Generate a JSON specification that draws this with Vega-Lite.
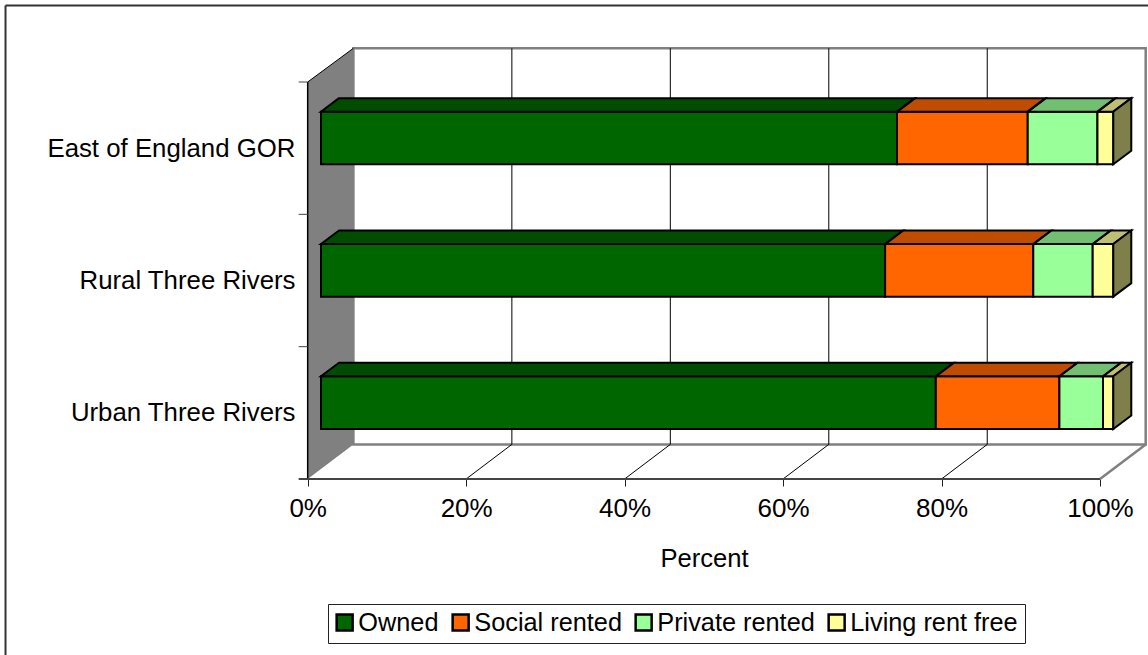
{
"$schema":"https://vega.github.io/schema/vega-lite/v6.json",
"width":1148,"height":655,"padding":0,"autosize":{"type":"none"},
"background":"white",
"config":{"font":"Liberation Sans","view":{"stroke":null}},
"datasets":{
 "depth":[{"d":0},{"d":1}],
 "ticks":[{"v":20},{"v":40},{"v":60},{"v":80}],
 "rows":[{"Ytick":1},{"Ytick":2},{"Ytick":3}],
 "tenure":[
  {"cat":"East of England GOR","series":"Owned","pct":72.7},
  {"cat":"East of England GOR","series":"Social rented","pct":16.5},
  {"cat":"East of England GOR","series":"Private rented","pct":8.8},
  {"cat":"East of England GOR","series":"Living rent free","pct":2.0},
  {"cat":"Rural Three Rivers","series":"Owned","pct":71.2},
  {"cat":"Rural Three Rivers","series":"Social rented","pct":18.7},
  {"cat":"Rural Three Rivers","series":"Private rented","pct":7.5},
  {"cat":"Rural Three Rivers","series":"Living rent free","pct":2.6},
  {"cat":"Urban Three Rivers","series":"Owned","pct":77.6},
  {"cat":"Urban Three Rivers","series":"Social rented","pct":15.6},
  {"cat":"Urban Three Rivers","series":"Private rented","pct":5.5},
  {"cat":"Urban Three Rivers","series":"Living rent free","pct":1.3}
 ]
},
"encoding":{
 "x":{"field":"X","type":"quantitative","stack":null,
  "scale":{"domain":[-38.836,106.06],"nice":false,"zero":false},
  "axis":{"orient":"bottom","offset":-176,"values":[0,20,40,60,80,100],"labelExpr":"datum.value+'%'","grid":false,"domain":false,"ticks":true,"tickSize":7,"tickColor":"#222","tickWidth":1,"labelFontSize":26,"labelColor":"black","labelPadding":9,"labelFlush":false,"title":"Percent","titleFontSize":25.6,"titleFontWeight":"normal","titleColor":"black","titleX":704,"titleY":79,"titleBaseline":"middle","titleAnchor":"middle","labelOverlap":false}},
 "y":{"field":"Y","type":"quantitative","stack":null,
  "scale":{"domain":[-1.33,3.6197],"nice":false,"zero":false},
  "axis":{"orient":"left","offset":-307.7,"values":[0.5,1.5,2.5],"labelExpr":"datum.value==0.5?'Urban Three Rivers':datum.value==1.5?'Rural Three Rivers':'East of England GOR'","grid":false,"domain":false,"ticks":false,"labelFontSize":25.8,"labelColor":"black","labelPadding":12.7,"labelLimit":400,"title":null,"labelOverlap":false,"labelFlush":false}}
},
"layer":[
 {"data":{"values":[{"edge":"left"}]},
  "transform":[{"calculate":"-38.14","as":"X"},{"calculate":"3.578","as":"Y"},{"calculate":"-1.33","as":"Y2"}],
  "mark":{"type":"rule","stroke":"#333","strokeWidth":2},
  "encoding":{"y2":{"field":"Y2"}}},
 {"data":{"values":[{"edge":"top"}]},
  "transform":[{"calculate":"-38.14","as":"X"},{"calculate":"106.06","as":"X2"},{"calculate":"3.578","as":"Y"}],
  "mark":{"type":"rule","stroke":"#333","strokeWidth":2},
  "encoding":{"x2":{"field":"X2"}}},
 {"data":{"values":[{"face":"back"}]},
  "transform":[{"calculate":"5.77","as":"X"},{"calculate":"105.77","as":"X2"},{"calculate":"0.2615","as":"Y"},{"calculate":"3.255","as":"Y2"}],
  "mark":{"type":"rect","fill":"white","stroke":"#808080","strokeWidth":2.5},
  "encoding":{"x2":{"field":"X2"},"y2":{"field":"Y2"}}},
 {"data":{"name":"depth"},
  "transform":[{"calculate":"datum.d*5.77","as":"X"},{"calculate":"datum.d*0.2615","as":"Y"},{"calculate":"3+datum.d*0.255","as":"Y2"}],
  "mark":{"type":"area","orient":"vertical","fill":"#808080"},
  "encoding":{"y2":{"field":"Y2"}}},
 {"data":{"name":"depth"},
  "transform":[{"calculate":"100+datum.d*5.77","as":"X"},{"calculate":"datum.d*0.2615","as":"Y"}],
  "mark":{"type":"line","stroke":"#808080","strokeWidth":2.5}},
 {"data":{"name":"depth"},
  "transform":[{"calculate":"datum.d*5.77","as":"X"},{"calculate":"3+datum.d*0.255","as":"Y"}],
  "mark":{"type":"line","stroke":"black","strokeWidth":1}},
 {"data":{"name":"ticks"},
  "transform":[{"calculate":"datum.v+5.77","as":"X"},{"calculate":"0.2615","as":"Y"},{"calculate":"3.255","as":"Y2"}],
  "mark":{"type":"rule","stroke":"black","strokeWidth":1},
  "encoding":{"y2":{"field":"Y2"}}},
 {"data":{"name":"ticks"},
  "transform":[{"calculate":"[0,1]","as":"d"},{"flatten":["d"]},{"calculate":"datum.v+datum.d*5.77","as":"X"},{"calculate":"datum.d*0.2615","as":"Y"}],
  "mark":{"type":"line","stroke":"black","strokeWidth":1},
  "encoding":{"detail":{"field":"v"}}},
 {"data":{"values":[{"edge":"frontLeft"}]},
  "transform":[{"calculate":"0","as":"X"},{"calculate":"0","as":"Y"},{"calculate":"3","as":"Y2"}],
  "mark":{"type":"rule","stroke":"black","strokeWidth":1.5},
  "encoding":{"y2":{"field":"Y2"}}},
 {"data":{"values":[{"edge":"frontBottom"}]},
  "transform":[{"calculate":"-1.14","as":"X"},{"calculate":"100","as":"X2"},{"calculate":"0","as":"Y"}],
  "mark":{"type":"rule","stroke":"#444","strokeWidth":2},
  "encoding":{"x2":{"field":"X2"}}},
 {"data":{"name":"rows"},
  "transform":[{"calculate":"-1.14","as":"X"},{"calculate":"0","as":"X2"},{"calculate":"datum.Ytick","as":"Y"}],
  "mark":{"type":"rule","stroke":"#444","strokeWidth":1},
  "encoding":{"x2":{"field":"X2"}}},
 {"data":{"name":"tenure"},
  "transform":[
   {"calculate":"indexof(['Owned','Social rented','Private rented','Living rent free'],datum.series)","as":"order"},
   {"stack":"pct","groupby":["cat"],"sort":[{"field":"order","order":"ascending"}],"as":["lo","hi"]},
   {"calculate":"indexof(['Urban Three Rivers','Rural Three Rivers','East of England GOR'],datum.cat)","as":"r"},
   {"calculate":"[0,1]","as":"d"},
   {"flatten":["d"]}
  ],
  "encoding":{
   "color":{"field":"series","type":"nominal",
    "scale":{"domain":["Owned","Social rented","Private rented","Living rent free"],"range":["#006600","#FF6600","#99FF99","#FFFF99"]},
    "legend":{"orient":"none","legendX":328,"legendY":604,"direction":"horizontal","columns":4,"title":null,"fillColor":"white","strokeColor":"#222","padding":7,"labelFontSize":25.3,"labelColor":"black","symbolType":"square","symbolSize":256,"symbolStrokeWidth":2.5,"symbolStrokeColor":"black","symbolOpacity":1,"symbolOffset":-3,"columnPadding":12,"labelOffset":1,"labelLimit":400,"clipHeight":23}},
   "detail":{"field":"cat"}
  },
  "layer":[
   {"transform":[{"filter":"datum.d==0"},{"calculate":"datum.lo+1.68","as":"X"},{"calculate":"datum.hi+1.68","as":"X2"},{"calculate":"datum.r+0.378","as":"Y"},{"calculate":"datum.r+0.776","as":"Y2"}],
    "mark":{"type":"rect","stroke":"black","strokeWidth":2},
    "encoding":{"x2":{"field":"X2"},"y2":{"field":"Y2"}}},
   {"transform":[{"calculate":"datum.lo+1.68+datum.d*2.27","as":"X"},{"calculate":"datum.hi+1.68+datum.d*2.27","as":"X2"},{"calculate":"datum.r+0.776+datum.d*0.102","as":"Y"}],
    "mark":{"type":"area","orient":"horizontal"},
    "encoding":{"x2":{"field":"X2"}}},
   {"transform":[{"calculate":"datum.lo+1.68+datum.d*2.27","as":"X"},{"calculate":"datum.hi+1.68+datum.d*2.27","as":"X2"},{"calculate":"datum.r+0.776+datum.d*0.102","as":"Y"}],
    "mark":{"type":"area","orient":"horizontal","fillOpacity":0.25,"stroke":"black","strokeWidth":2},
    "encoding":{"x2":{"field":"X2"},"color":{"value":"black"},"detail":[{"field":"cat"},{"field":"series"}]}},
   {"transform":[{"filter":"datum.series=='Living rent free'"},{"calculate":"101.68+datum.d*2.27","as":"X"},{"calculate":"datum.r+0.378+datum.d*0.102","as":"Y"},{"calculate":"datum.r+0.776+datum.d*0.102","as":"Y2"}],
    "mark":{"type":"area","orient":"vertical"},
    "encoding":{"y2":{"field":"Y2"}}},
   {"transform":[{"filter":"datum.series=='Living rent free'"},{"calculate":"101.68+datum.d*2.27","as":"X"},{"calculate":"datum.r+0.378+datum.d*0.102","as":"Y"},{"calculate":"datum.r+0.776+datum.d*0.102","as":"Y2"}],
    "mark":{"type":"area","orient":"vertical","fillOpacity":0.5,"stroke":"black","strokeWidth":2},
    "encoding":{"y2":{"field":"Y2"},"color":{"value":"black"}}}
  ]
 }
]
}
